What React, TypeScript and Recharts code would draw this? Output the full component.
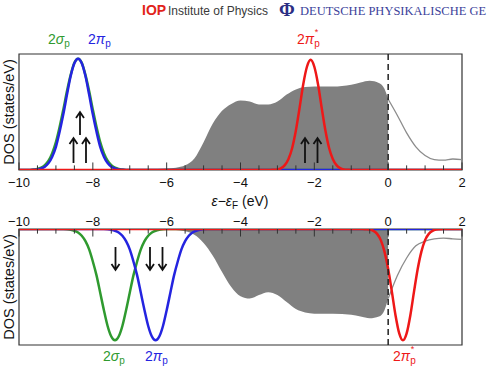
import React from 'react';
import { ComposedChart, Line, Area, XAxis, YAxis, ReferenceLine, ReferenceArea } from 'recharts';

const FONT = '"Liberation Sans", Arial, Helvetica, sans-serif';
const SERIF = '"Liberation Serif", "DejaVu Serif", serif';
const GREEN = '#2f9a2f';
const BLUE = '#2424e0';
const RED = '#ee1818';
const GREY = '#808080';
const INK = '#111';

// energy axis ticks (eV)
const majorTicks = [-10, -8, -6, -4, -2, 0, 2];
const minorTicks = [-9.5, -9, -8.5, -7.5, -7, -6.5, -5.5, -5, -4.5, -3.5, -3, -2.5, -1.5, -1, -0.5, 0.5, 1, 1.5];

// spin up (top panel)
const upGreyE = [-10, -7, -6.5, -6, -5.75, -5.5, -5.25, -5, -4.75, -4.5, -4.25, -4, -3.75, -3.5, -3.25, -3, -2.75, -2.5, -2.25, -2, -1.75, -1.5, -1.25, -1, -0.75, -0.5, -0.25, -0.1, 0];
const upGreyDos = [0, 0, 0.005, 0.012, 0.02, 0.04, 0.1, 0.24, 0.4, 0.51, 0.57, 0.6, 0.59, 0.565, 0.565, 0.59, 0.65, 0.695, 0.715, 0.72, 0.72, 0.72, 0.725, 0.735, 0.755, 0.77, 0.75, 0.7, 0.61];
const upTailE = [0, 0.25, 0.5, 0.75, 1, 1.25, 1.5, 1.75, 2];
const upTailDos = [0.61, 0.47, 0.32, 0.2, 0.125, 0.09, 0.085, 0.095, 0.09];

const upSigmaE = [-10, -9.8, -9.7, -9.6, -9.5, -9.4, -9.3, -9.2, -9.1, -9.0, -8.9, -8.8, -8.7, -8.6, -8.5, -8.4, -8.3, -8.2, -8.1, -8.0, -7.9, -7.8, -7.7, -7.6, -7.5, -7.4, -7.3, -7.2, -7.1, -7.0, 2];
const upSigmaDos = [0, 0, 0.001, 0.004, 0.009, 0.02, 0.042, 0.08, 0.145, 0.24, 0.37, 0.52, 0.68, 0.82, 0.925, 0.96, 0.925, 0.82, 0.68, 0.52, 0.37, 0.24, 0.145, 0.08, 0.042, 0.02, 0.009, 0.004, 0.001, 0, 0];
const upPiDos = [0, 0, 0, 0.002, 0.005, 0.013, 0.029, 0.06, 0.115, 0.2, 0.33, 0.48, 0.65, 0.81, 0.92, 0.96, 0.92, 0.81, 0.65, 0.48, 0.33, 0.2, 0.115, 0.06, 0.029, 0.013, 0.005, 0.002, 0, 0, 0];

const upPiStarE = [-10, -3.3, -3.2, -3.1, -3.0, -2.9, -2.8, -2.7, -2.6, -2.5, -2.4, -2.3, -2.2, -2.1, -2.0, -1.9, -1.8, -1.7, -1.6, -1.5, -1.4, -1.3, -1.2, -1.1, -1.0, -0.9, 2];
const upPiStarDos = [0, 0, 0, 0.002, 0.005, 0.016, 0.042, 0.095, 0.19, 0.34, 0.535, 0.74, 0.89, 0.95, 0.89, 0.74, 0.535, 0.34, 0.19, 0.095, 0.042, 0.016, 0.005, 0.002, 0, 0, 0];

// spin down (bottom panel)
const dnGreyE = [-10, -6.5, -6, -5.5, -5.25, -5, -4.75, -4.5, -4.25, -4, -3.75, -3.5, -3.25, -3, -2.75, -2.5, -2.25, -2, -1.5, -1, -0.75, -0.5, -0.25, -0.1, 0];
const dnGreyDos = [0, 0, -0.005, -0.02, -0.05, -0.12, -0.23, -0.37, -0.5, -0.58, -0.6, -0.57, -0.545, -0.57, -0.63, -0.69, -0.72, -0.73, -0.73, -0.74, -0.755, -0.77, -0.755, -0.7, -0.6];
const dnTailE = [0, 0.25, 0.5, 0.75, 1, 1.25, 1.5, 1.75, 2];
const dnTailDos = [-0.6, -0.4, -0.25, -0.145, -0.105, -0.085, -0.078, -0.085, -0.09];

const dnSigmaE = [-10, -8.9, -8.8, -8.7, -8.6, -8.5, -8.4, -8.3, -8.2, -8.1, -8.0, -7.9, -7.8, -7.7, -7.6, -7.5, -7.4, -7.3, -7.2, -7.1, -7.0, -6.9, -6.8, -6.7, -6.6, -6.5, -6.4, -6.3, -6.2, -6.1, -6.0, -5.9, 2];
const dnPiE = [-10, -7.8, -7.7, -7.6, -7.5, -7.4, -7.3, -7.2, -7.1, -7.0, -6.9, -6.8, -6.7, -6.6, -6.5, -6.4, -6.3, -6.2, -6.1, -6.0, -5.9, -5.8, -5.7, -5.6, -5.5, -5.4, -5.3, -5.2, -5.1, -5.0, -4.9, -4.8, 2];
const dnDipDos = [0, 0, -0.001, -0.003, -0.007, -0.015, -0.03, -0.058, -0.105, -0.176, -0.28, -0.4, -0.55, -0.7, -0.836, -0.927, -0.96, -0.927, -0.836, -0.7, -0.55, -0.4, -0.28, -0.176, -0.105, -0.058, -0.03, -0.015, -0.007, -0.003, -0.001, 0, 0];

const dnPiStarE = [-10, -0.8, -0.7, -0.6, -0.5, -0.4, -0.3, -0.2, -0.1, 0.0, 0.1, 0.2, 0.3, 0.4, 0.5, 0.6, 0.7, 0.8, 0.9, 1.0, 1.1, 1.2, 1.3, 1.4, 1.5, 1.6, 2];
const dnPiStarDos = [0, 0, 0, -0.002, -0.005, -0.016, -0.042, -0.096, -0.195, -0.345, -0.54, -0.745, -0.9, -0.96, -0.9, -0.745, -0.54, -0.345, -0.195, -0.096, -0.042, -0.016, -0.005, -0.002, 0, 0, 0];

const pts = (e: number[], v: number[]) => e.map((x, i) => ({ e: x, v: v[i] }));
const fmt = (v: number) => (v < 0 ? `\u2212${-v}` : `${v}`);

type PanelProps = {
  up: boolean;
  grey: { e: number; v: number }[];
  tail: { e: number; v: number }[];
  green: { e: number; v: number }[];
  blue: { e: number; v: number }[];
  red: { e: number; v: number }[];
};

const Panel = ({ up, grey, tail, green, blue, red }: PanelProps) => {
  const sgn = up ? 1 : -1;
  return (
    <ComposedChart
      width={487}
      height={up ? 200 : 168}
      margin={up ? { top: 54, right: 25, bottom: 0, left: 19 } : { top: 0, right: 25, bottom: 23, left: 19 }}
    >
      <XAxis
        type="number"
        dataKey="e"
        domain={[-10, 2]}
        ticks={majorTicks}
        interval={0}
        allowDataOverflow
        orientation={up ? 'bottom' : 'top'}
        height={up ? 30 : 29}
        axisLine={false}
        tickLine={false}
        tickSize={up ? 6 : 1}
        tickMargin={2}
        tickFormatter={fmt}
        tick={{ fontSize: 13, fill: INK, fontFamily: FONT }}
      />
      <YAxis type="number" domain={up ? [0, 1] : [-1, 0]} hide allowDataOverflow />
      <Area data={grey} dataKey="v" type="monotone" stroke="none" fill={GREY} fillOpacity={1} baseValue={0} isAnimationActive={false} />
      <Line data={tail} dataKey="v" type="monotone" stroke="#8c8c8c" strokeWidth={1.3} dot={false} isAnimationActive={false} />
      <Line data={green} dataKey="v" type="monotone" stroke={GREEN} strokeWidth={2.5} dot={false} isAnimationActive={false} />
      <Line data={blue} dataKey="v" type="monotone" stroke={BLUE} strokeWidth={2.5} dot={false} isAnimationActive={false} />
      <Line data={red} dataKey="v" type="monotone" stroke={RED} strokeWidth={2.5} dot={false} isAnimationActive={false} />
      <ReferenceLine x={0} stroke="#222" strokeWidth={1.5} strokeDasharray="6 4" />
      {majorTicks.map((t) => (
        <ReferenceLine key={`M${t}`} segment={[{ x: t, y: 0 }, { x: t, y: sgn * 0.065 }]} stroke="#333" strokeWidth={1} />
      ))}
      {minorTicks.map((t) => (
        <ReferenceLine key={`m${t}`} segment={[{ x: t, y: 0 }, { x: t, y: sgn * 0.04 }]} stroke="#333" strokeWidth={1} />
      ))}
      <ReferenceArea x1={-10} x2={2} y1={up ? 0 : -1} y2={up ? 1 : 0} fill="none" stroke="#333" strokeWidth={1.2} ifOverflow="visible" />
    </ComposedChart>
  );
};

const Arrow = ({ x, y1, y2, down }: { x: number; y1: number; y2: number; down?: boolean }) => {
  const h = down ? y2 : y1;
  const d = down ? -6 : 6;
  return (
    <path
      d={`M${x},${y1} L${x},${y2} M${x - 4},${h + d} L${x},${h} L${x + 4},${h + d}`}
      stroke={INK}
      strokeWidth={1.8}
      fill="none"
    />
  );
};

const PeakLabel = ({ x, y, color, sym, star }: { x: number; y: number; color: string; sym: string; star?: boolean }) => (
  <text x={x} y={y} fill={color} fontFamily={FONT} fontSize={14}>
    2<tspan fontStyle="italic">{sym}</tspan>
    <tspan fontSize={10} dy={3}>p</tspan>
    {star && (
      <tspan fontSize={9} dx={-5} dy={-12}>*</tspan>
    )}
  </text>
);

export default function App() {
  return (
    <div style={{ position: 'absolute', left: 0, top: 0, width: 487, height: 368, background: '#fff', overflow: 'hidden' }}>
      <div style={{ position: 'absolute', left: 0, top: 0 }}>
        <Panel
          up
          grey={pts(upGreyE, upGreyDos)}
          tail={pts(upTailE, upTailDos)}
          green={pts(upSigmaE, upSigmaDos)}
          blue={pts(upSigmaE, upPiDos)}
          red={pts(upPiStarE, upPiStarDos)}
        />
      </div>
      <div style={{ position: 'absolute', left: 0, top: 200 }}>
        <Panel
          up={false}
          grey={pts(dnGreyE, dnGreyDos)}
          tail={pts(dnTailE, dnTailDos)}
          green={pts(dnSigmaE, dnDipDos)}
          blue={pts(dnPiE, dnDipDos)}
          red={pts(dnPiStarE, dnPiStarDos)}
        />
      </div>
      <svg width={487} height={368} style={{ position: 'absolute', left: 0, top: 0, pointerEvents: 'none' }}>
        <text x={142} y={15} fontFamily={FONT} fontWeight="bold" fontSize={14} fill="#e2231a">IOP</text>
        <text x={168} y={15} fontFamily={FONT} fontSize={12.5} fill="#3a3a3a" textLength={100} lengthAdjust="spacingAndGlyphs">Institute of Physics</text>
        <text x={279} y={16} fontFamily={SERIF} fontWeight="bold" fontSize={19} fill="#2b2e83">Φ</text>
        <text x={300} y={15} fontFamily={SERIF} fontSize={12.5} fill="#3b3f9a">DEUTSCHE PHYSIKALISCHE GE</text>

        <PeakLabel x={48} y={44} color={GREEN} sym="σ" />
        <PeakLabel x={88} y={44} color={BLUE} sym="π" />
        <PeakLabel x={297} y={44} color={RED} sym="π" star />
        <PeakLabel x={103} y={361} color={GREEN} sym="σ" />
        <PeakLabel x={145} y={361} color={BLUE} sym="π" />
        <PeakLabel x={393} y={361} color={RED} sym="π" star />

        <text x={240} y={206} textAnchor="middle" fontFamily={FONT} fontSize={14} fill={INK}>
          <tspan fontStyle="italic">ε</tspan>−<tspan fontStyle="italic">ε</tspan>
          <tspan fontSize={10} dy={3}>F</tspan>
          <tspan dy={-3}> (eV)</tspan>
        </text>

        <text x={14} y={112} transform="rotate(-90 14 112)" textAnchor="middle" fontFamily={FONT} fontSize={14.5} fill={INK}>DOS (states/eV)</text>
        <text x={14} y={287} transform="rotate(-90 14 287)" textAnchor="middle" fontFamily={FONT} fontSize={14.5} fill={INK}>DOS (states/eV)</text>

        <Arrow x={80} y1={112} y2={135} />
        <Arrow x={73.5} y1={138} y2={163} />
        <Arrow x={86} y1={138} y2={163} />
        <Arrow x={305} y1={138} y2={163} />
        <Arrow x={317.5} y1={138} y2={163} />
        <Arrow x={115.5} y1={247} y2={270} down />
        <Arrow x={150} y1={247} y2={270} down />
        <Arrow x={162.5} y1={247} y2={270} down />
      </svg>
    </div>
  );
}
